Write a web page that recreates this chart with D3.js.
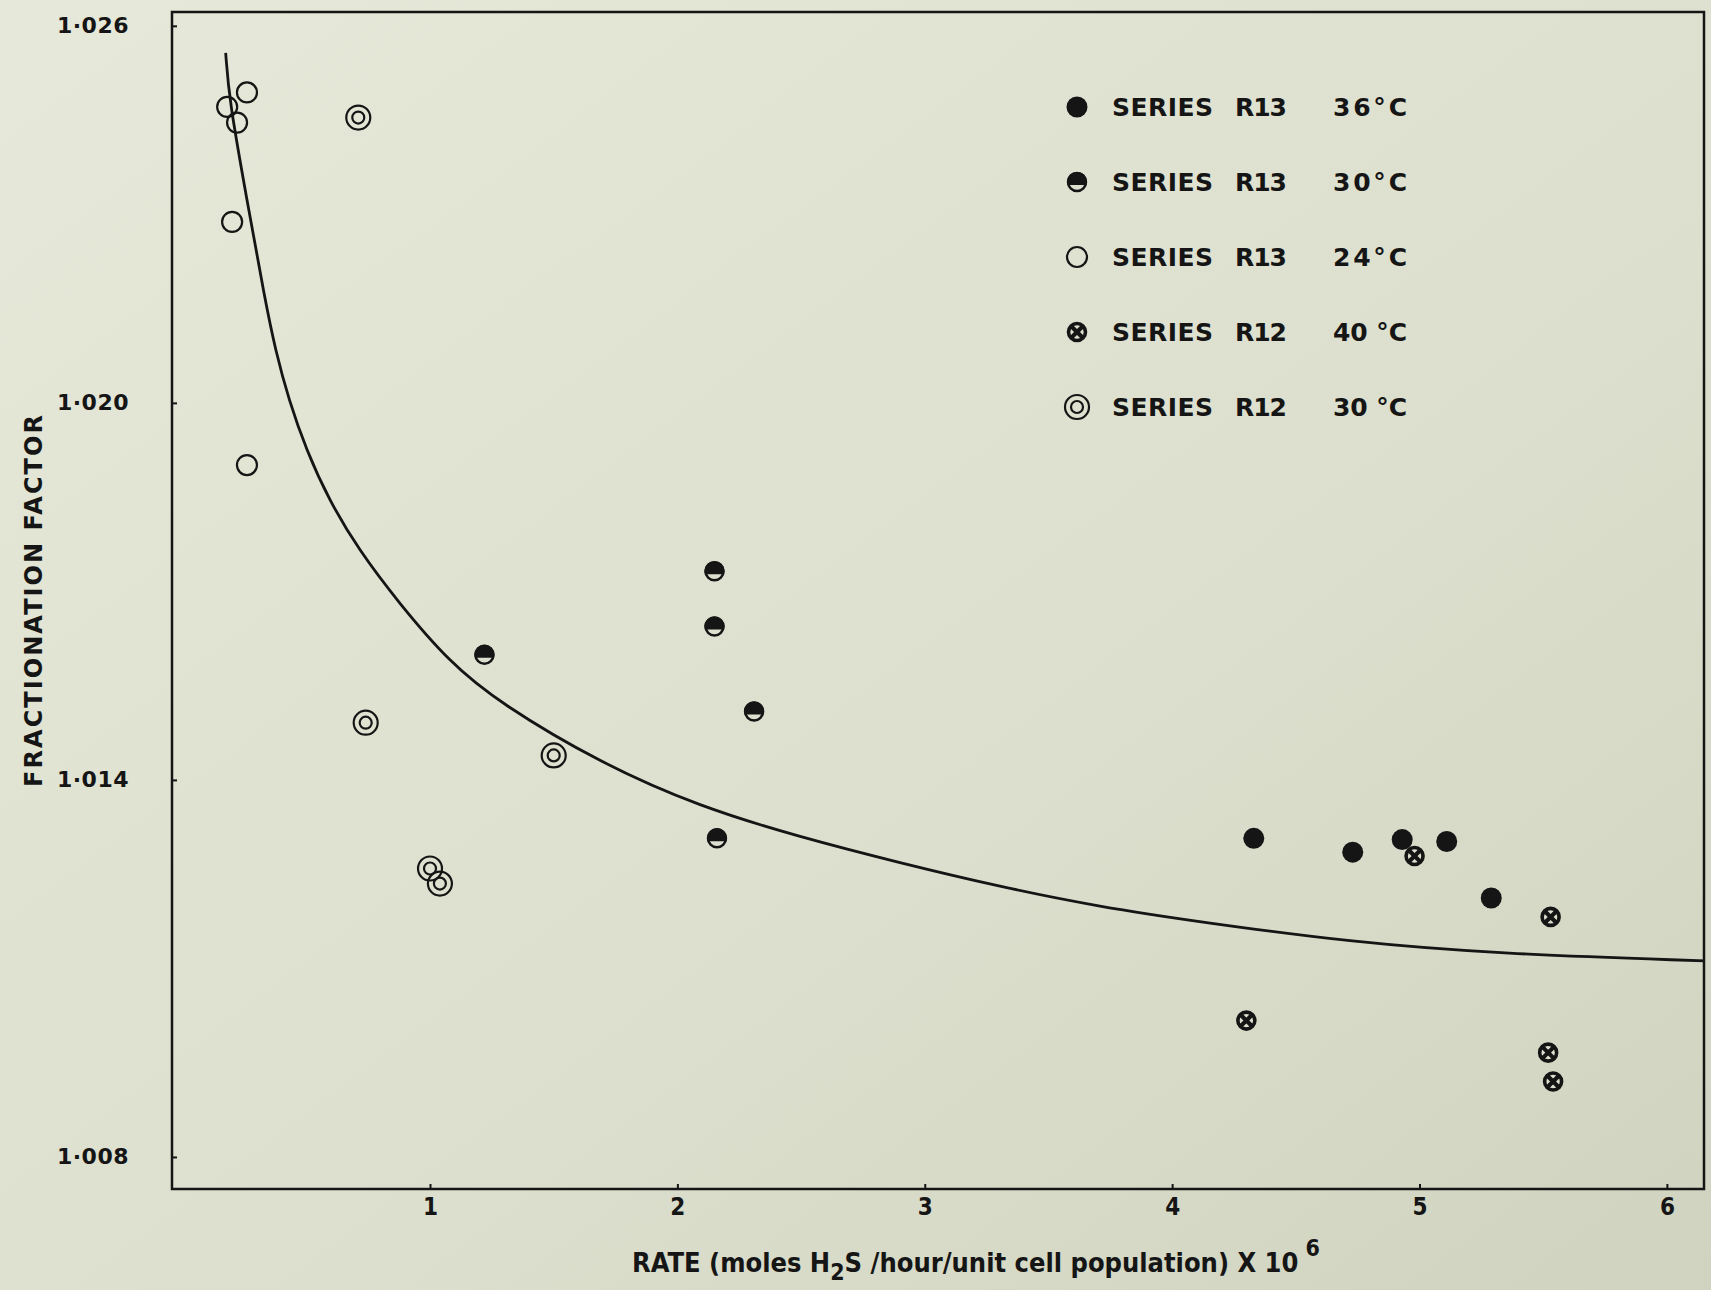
<!DOCTYPE html>
<html>
<head>
<meta charset="utf-8">
<script src="https://cdn.jsdelivr.net/npm/d3@7"></script>
<style>
  body { margin: 0; background: #dfe2d1; }
  text { fill: #151515; }
</style>
</head>
<body>
<div id="chart"></div>
<script>
// points: [rate x 10^6, fractionation factor]
var r13at36 = [[4.33, 1.01307], [4.73, 1.01285], [4.93, 1.01305], [5.11, 1.01302], [5.29, 1.01212]];
var r13at30 = [[1.22, 1.01599], [2.15, 1.01732], [2.15, 1.01644], [2.31, 1.01509], [2.16, 1.01307]];
var r13at24 = [[0.18, 1.02471], [0.26, 1.02494], [0.22, 1.02446], [0.20, 1.02288], [0.26, 1.01901]];
var r12at40 = [[4.98, 1.01279], [5.53, 1.01182], [4.30, 1.01017], [5.52, 1.00966], [5.54, 1.00920]];
var r12at30 = [[0.71, 1.02454], [0.74, 1.01491], [1.50, 1.01439], [1.00, 1.01259], [1.04, 1.01235]];

// hand drawn curve, traced along its length
var fitRate   = [0.174, 0.188, 0.260, 0.333, 0.375, 0.429, 0.500, 0.592, 0.712, 0.871, 1.081, 1.283, 1.687, 2.092, 2.496, 2.900, 3.304, 3.708, 4.113, 4.719, 5.325, 6.154];
var fitFactor = [1.02557, 1.02482, 1.02323, 1.02164, 1.02084, 1.02005, 1.01925, 1.01845, 1.01766, 1.01683, 1.01586, 1.01522, 1.01427, 1.01357, 1.01309, 1.01268, 1.0123, 1.01198, 1.01174, 1.01142, 1.01123, 1.01112];

var xTicks = [1, 2, 3, 4, 5, 6];
var yTicks = [1.008, 1.014, 1.020, 1.026];

var legendRun  = ["R13", "R13", "R13", "R12", "R12"];
var legendTemp = ["36°C", "30°C", "24°C", "40 °C", "30 °C"];
var legendKind = ["full", "half", "open", "cross", "double"];

var W = 1711, H = 1290;
var paper = "#dde0cf", ink = "#151515";

var svg = d3.select("#chart").append("svg")
    .attr("width", W)
    .attr("height", H);

var grad = svg.append("defs").append("linearGradient")
    .attr("id", "paper")
    .attr("x1", "0").attr("y1", "0").attr("x2", "1").attr("y2", "1");
grad.append("stop").attr("offset", "0").attr("stop-color", "#e6e8d9");
grad.append("stop").attr("offset", "0.6").attr("stop-color", "#dcdfcd");
grad.append("stop").attr("offset", "1").attr("stop-color", "#cfd3bf");

svg.append("rect")
    .attr("width", W).attr("height", H)
    .attr("fill", "url(#paper)");

var x = d3.scaleLinear().domain([-0.043, 6.15]).range([172, 1704]);
var y = d3.scaleLinear().domain([1.00749, 1.02622]).range([1189, 12]);

// frame
svg.append("rect")
    .attr("x", x.range()[0]).attr("y", y.range()[1])
    .attr("width", x.range()[1] - x.range()[0])
    .attr("height", y.range()[0] - y.range()[1])
    .attr("fill", "none")
    .attr("stroke", ink)
    .attr("stroke-width", 2.5);

// axes
var xAxis = svg.append("g")
    .attr("transform", "translate(0," + y.range()[0] + ")")
    .call(d3.axisBottom(x).tickValues(xTicks).tickSizeInner(-5).tickSizeOuter(0).tickPadding(9)
        .tickFormat(d3.format("d")));
xAxis.select(".domain").remove();
xAxis.selectAll("line").attr("stroke", ink).attr("stroke-width", 2);
xAxis.selectAll("text")
    .style("font-family", "'Liberation Sans Narrow', 'DejaVu Sans Condensed', 'Roboto Condensed', sans-serif")
    .style("font-stretch", "condensed")
    .style("font-weight", "bold")
    .style("font-size", "24px")
    .attr("fill", ink);

var yAxis = svg.append("g")
    .attr("transform", "translate(" + x.range()[0] + ",0)")
    .call(d3.axisLeft(y).tickValues(yTicks).tickSizeInner(-5).tickSizeOuter(0).tickPadding(43)
        .tickFormat(function(d) { return d3.format(".3f")(d).replace(".", "·"); }));
yAxis.select(".domain").remove();
yAxis.selectAll("line").attr("stroke", ink).attr("stroke-width", 2);
yAxis.selectAll("text")
    .style("font-family", "'DejaVu Sans', sans-serif")
    .style("font-weight", "bold")
    .style("font-size", "22px")
    .style("letter-spacing", "0.5px")
    .attr("fill", ink);

// axis titles
svg.append("text")
    .attr("transform", "translate(42,601) rotate(-90)")
    .attr("text-anchor", "middle")
    .attr("textLength", 372)
    .attr("lengthAdjust", "spacing")
    .style("font-family", "'DejaVu Sans', sans-serif")
    .style("font-weight", "bold")
    .style("font-size", "24px")
    .text("FRACTIONATION  FACTOR");

var xt = svg.append("text")
    .attr("x", 632)
    .attr("y", 1272)
    .style("font-family", "'Liberation Sans Narrow', 'DejaVu Sans Condensed', 'Roboto Condensed', sans-serif")
    .style("font-stretch", "condensed")
    .style("font-weight", "bold")
    .style("font-size", "27px");
xt.append("tspan").text("RATE (moles H");
xt.append("tspan").attr("dy", 8).style("font-size", "23px").text("2");
xt.append("tspan").attr("dy", -8).text("S /hour/unit cell population) X 10");
xt.append("tspan").attr("dx", 7).attr("dy", -16).style("font-size", "23px").text("6");

// curve
var line = d3.line()
    .x(function(d) { return x(d[0]); })
    .y(function(d) { return y(d[1]); })
    .curve(d3.curveBasis);

svg.append("path")
    .datum(fitRate.map(function(r, i) { return [r, fitFactor[i]]; }))
    .attr("d", line)
    .attr("fill", "none")
    .attr("stroke", ink)
    .attr("stroke-width", 2.8);

// marker symbols
var R = 10;
function drawMarker(g, kind) {
  if (kind == "full") {
    g.append("circle").attr("r", R + 0.5).attr("fill", ink);
  } else if (kind == "half") {
    var c = 3, hx = Math.sqrt(R * R - c * c);
    g.append("circle").attr("r", R - 1).attr("fill", paper).attr("stroke", ink).attr("stroke-width", 2.5);
    g.append("path")
        .attr("d", "M" + (-hx) + "," + c + " A" + R + " " + R + " 0 1 1 " + hx + "," + c + " Z")
        .attr("fill", ink);
  } else if (kind == "open") {
    g.append("circle").attr("r", R).attr("fill", "none").attr("stroke", ink).attr("stroke-width", 2.2);
  } else if (kind == "cross") {
    g.append("circle").attr("r", R - 1.5).attr("fill", paper).attr("stroke", ink).attr("stroke-width", 3.6);
    var k = 6;
    g.append("path")
        .attr("d", "M" + (-k) + "," + (-k) + "L" + k + "," + k + "M" + k + "," + (-k) + "L" + (-k) + "," + k)
        .attr("stroke", ink).attr("stroke-width", 4.2);
  } else if (kind == "double") {
    g.append("circle").attr("r", R + 2).attr("fill", "none").attr("stroke", ink).attr("stroke-width", 2.2);
    g.append("circle").attr("r", 6).attr("fill", "none").attr("stroke", ink).attr("stroke-width", 2.2);
  }
}

var series = [
  {kind: "full", data: r13at36},
  {kind: "half", data: r13at30},
  {kind: "open", data: r13at24},
  {kind: "cross", data: r12at40},
  {kind: "double", data: r12at30}
];

series.forEach(function(s) {
  svg.append("g").selectAll("g")
      .data(s.data)
    .enter().append("g")
      .attr("transform", function(d) { return "translate(" + x(d[0]) + "," + y(d[1]) + ")"; })
      .each(function() { drawMarker(d3.select(this), s.kind); });
});

// legend
var ly = d3.scaleLinear().domain([0, 4]).range([107, 407]);
var leg = svg.append("g").selectAll("g")
    .data(legendKind)
  .enter().append("g")
    .attr("transform", function(d, i) { return "translate(1077," + ly(i) + ")"; });

leg.each(function(d) { drawMarker(d3.select(this), d); });

function legText(dx, len, fn) {
  leg.append("text")
      .attr("x", dx)
      .attr("y", 9)
      .attr("textLength", len)
      .attr("lengthAdjust", "spacing")
      .style("font-family", "'DejaVu Sans', sans-serif")
      .style("font-weight", "bold")
      .style("font-size", "25px")
      .text(fn);
}
legText(35, 101, function() { return "SERIES"; });
legText(158, 52, function(d, i) { return legendRun[i]; });
legText(256, 74, function(d, i) { return legendTemp[i]; });
</script>
</body>
</html>
